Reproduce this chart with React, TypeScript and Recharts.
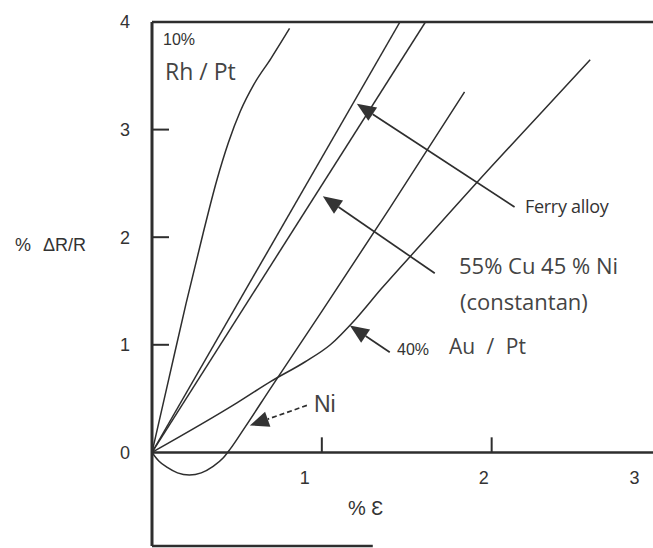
import React from 'react'
import { LineChart, Line, XAxis, YAxis, ReferenceLine, ReferenceDot } from 'recharts'

// strain (%) against resistance change (%)
const rhPtStrain = [0, 0.1, 0.2, 0.3, 0.38, 0.45, 0.52, 0.6, 0.7, 0.81]
const rhPtChange = [0, 0.69, 1.38, 2.03, 2.52, 2.88, 3.17, 3.42, 3.66, 3.94]

const ferryStrain = [0, 1.46]
const ferryChange = [0, 4.0]

const constantanStrain = [0, 1.61]
const constantanChange = [0, 4.0]

const auPtStrain = [0, 0.5, 0.7, 0.9, 1.05, 1.2, 1.35, 1.6, 2.0, 2.3, 2.58]
const auPtChange = [0, 0.46, 0.66, 0.84, 1.0, 1.24, 1.52, 1.96, 2.66, 3.17, 3.65]

const niStrain = [0, 0.04, 0.09, 0.15, 0.22, 0.29, 0.36, 0.42, 0.46, 0.55, 0.7, 1.0, 1.4, 1.84]
const niChange = [0, -0.08, -0.14, -0.19, -0.21, -0.19, -0.13, -0.05, 0.03, 0.24, 0.6, 1.31, 2.27, 3.35]

const yTicks = [0, 1, 2, 3, 4]
const yTickMarks = [1, 2, 3]
const xTickMarks = [1, 2]
const xTickLabels = [1, 2, 3]

// arrows: [tail, tip] in data units
const ferryArrow = [{ x: 2.135, y: 2.28 }, { x: 1.206, y: 3.24 }]
const constantanArrow = [{ x: 1.665, y: 1.665 }, { x: 1.006, y: 2.38 }]
const auPtArrow = [{ x: 1.4, y: 0.93 }, { x: 1.165, y: 1.18 }]
const niArrow = [{ x: 0.912, y: 0.437 }, { x: 0.576, y: 0.25 }]

const INK = '#2e2e2e'
const SANS = '"Liberation Sans", Arial, sans-serif'
const SOFT = '"Open Sans", sans-serif'

// the scanned labels sit a little left of their ticks
const xLabelNudge: Record<number, number> = { 1: -17, 2: -8, 3: -27 }

const toPoints = (xs: number[], ys: number[]) => xs.map((x, i) => ({ x, y: ys[i] }))

const Arrow = (p: any) => {
    const { x1, y1, x2, y2, dashed } = p
    const a = Math.atan2(y2 - y1, x2 - x1)
    const len = 19
    const half = 8
    const bx = x2 - len * Math.cos(a)
    const by = y2 - len * Math.sin(a)
    const pts = [
        `${x2},${y2}`,
        `${bx + half * Math.sin(a)},${by - half * Math.cos(a)}`,
        `${bx - half * Math.sin(a)},${by + half * Math.cos(a)}`,
    ].join(' ')
    return (
        <g>
            <line x1={x1} y1={y1} x2={bx} y2={by} stroke={INK} strokeWidth={1.7} strokeDasharray={dashed ? '5 3' : undefined} />
            <polygon points={pts} fill="#333" />
        </g>
    )
}

export default function App() {
    const series = [
        { key: 'rhpt', data: toPoints(rhPtStrain, rhPtChange) },
        { key: 'ferry', data: toPoints(ferryStrain, ferryChange) },
        { key: 'constantan', data: toPoints(constantanStrain, constantanChange) },
        { key: 'aupt', data: toPoints(auPtStrain, auPtChange) },
        { key: 'ni', data: toPoints(niStrain, niChange) },
    ]

    return (
        <div style={{ position: 'absolute', left: 0, top: 0, width: 653, height: 548, background: '#fff', overflow: 'hidden' }}>
            <LineChart width={653} height={548} margin={{ top: 22, right: 0, bottom: 2, left: 92 }}>
                <XAxis dataKey="x" type="number" domain={[0, 2.95]} allowDataOverflow hide />
                <YAxis
                    type="number"
                    domain={[-0.87, 4]}
                    ticks={yTicks}
                    allowDataOverflow
                    width={60}
                    tickSize={0}
                    tickMargin={22}
                    axisLine={{ stroke: INK, strokeWidth: 3 }}
                    tickLine={false}
                    tick={{ fill: '#333', fontSize: 18, fontFamily: SANS }}
                />
                <ReferenceLine y={4} stroke={INK} strokeWidth={2.5} />
                <ReferenceLine y={0} stroke={INK} strokeWidth={2.5} />
                <ReferenceLine segment={[{ x: 0, y: -0.87 }, { x: 1.3, y: -0.87 }]} stroke={INK} strokeWidth={2.5} />
                {yTickMarks.map((v) => (
                    <ReferenceLine key={`yt-${v}`} segment={[{ x: 0, y: v }, { x: 0.1, y: v }]} stroke={INK} strokeWidth={2} />
                ))}
                {xTickMarks.map((v) => (
                    <ReferenceLine key={`xt-${v}`} segment={[{ x: v, y: 0 }, { x: v, y: 0.14 }]} stroke={INK} strokeWidth={2} />
                ))}
                {xTickLabels.map((v) => (
                    <ReferenceDot
                        key={`xl-${v}`}
                        x={v}
                        y={0}
                        r={0}
                        ifOverflow="visible"
                        shape={(p: any) => (
                            <text x={p.cx + xLabelNudge[v]} y={p.cy + 32} textAnchor="middle" fontSize={18} fontFamily={SANS} fill="#333">
                                {v}
                            </text>
                        )}
                    />
                ))}
                {series.map((s) => (
                    <Line
                        key={s.key}
                        data={s.data}
                        dataKey="y"
                        type="monotone"
                        stroke={INK}
                        strokeWidth={1.5}
                        dot={false}
                        activeDot={false}
                        isAnimationActive={false}
                    />
                ))}
                <ReferenceLine segment={ferryArrow} shape={(p: any) => <Arrow {...p} />} />
                <ReferenceLine segment={constantanArrow} shape={(p: any) => <Arrow {...p} />} />
                <ReferenceLine segment={auPtArrow} shape={(p: any) => <Arrow {...p} />} />
                <ReferenceLine segment={niArrow} shape={(p: any) => <Arrow {...p} dashed />} />
            </LineChart>
            <svg width={653} height={548} style={{ position: 'absolute', left: 0, top: 0, pointerEvents: 'none' }}>
                <g fill="#333">
                    <text x={15} y={251} fontSize={18} fontFamily={SANS} wordSpacing={8}>% ΔR/R</text>
                    <text x={348} y={515} fontSize={20} fontFamily={SANS}>% Ɛ</text>
                    <text x={163} y={45} fontSize={16} fontFamily={SANS}>10%</text>
                    <text x={165} y={80} fontSize={23} fontFamily={SOFT} fill="#444">Rh / Pt</text>
                    <text x={525} y={213} fontSize={18} fontFamily={SOFT} letterSpacing={-0.3}>Ferry alloy</text>
                    <text x={459} y={274} fontSize={22} fontFamily={SOFT} fill="#444">55% Cu 45 % Ni</text>
                    <text x={460} y={310} fontSize={22} fontFamily={SOFT} fill="#444">(constantan)</text>
                    <text x={397} y={355} fontSize={16} fontFamily={SANS}>40%</text>
                    <text x={449} y={354} fontSize={21} fontFamily={SOFT} fill="#444" wordSpacing={6}>Au / Pt</text>
                    <text x={314} y={412} fontSize={23} fontFamily={SANS} fill="#444">Ni</text>
                </g>
            </svg>
        </div>
    )
}
